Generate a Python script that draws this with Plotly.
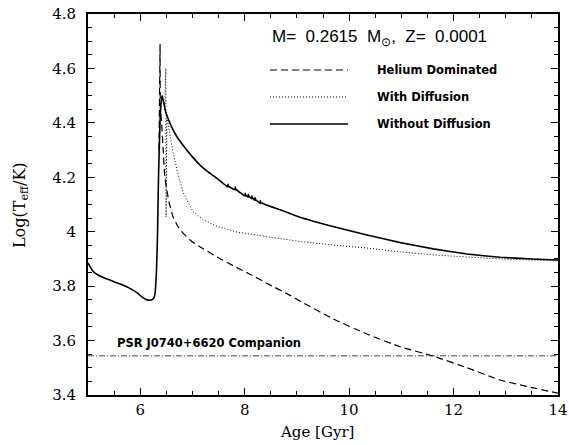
import plotly.graph_objects as go

# ---- data ----
solid_age = [5.0, 5.05, 5.1, 5.2, 5.38, 5.63, 5.82, 5.95, 6.02, 6.1, 6.19, 6.25, 6.28,
             6.31, 6.33, 6.35, 6.38, 6.40, 6.42, 6.45, 6.48, 6.53, 6.6, 6.7, 6.82, 7.0,
             7.15, 7.3, 7.47,
             7.68, 7.68, 7.69, 7.82, 7.82, 7.83, 8.01, 8.01, 8.02, 8.07, 8.07, 8.08,
             8.14, 8.14, 8.15, 8.2, 8.2, 8.21, 8.3, 8.3, 8.31,
             8.74, 9.06, 9.69, 10.34, 10.98, 11.61, 12.26, 12.89, 13.5, 14.0]
solid_teff = [3.885, 3.868, 3.854, 3.84, 3.825, 3.807, 3.79, 3.774, 3.762, 3.752, 3.748, 3.754, 3.768,
              3.85, 3.98, 4.2, 4.41, 4.475, 4.50, 4.475, 4.445, 4.418, 4.385, 4.35, 4.318, 4.275,
              4.244, 4.22, 4.196,
              4.164, 4.174, 4.167, 4.154, 4.164, 4.156, 4.131, 4.141, 4.134, 4.127, 4.137, 4.130,
              4.121, 4.131, 4.124, 4.115, 4.125, 4.118, 4.104, 4.114, 4.107,
              4.076, 4.053, 4.019, 3.988, 3.96, 3.937, 3.918, 3.906, 3.90, 3.896]

dotted_age = [6.40, 6.44, 6.47, 6.49, 6.495, 6.51, 6.54, 6.57, 6.63, 6.70, 6.82, 7.01, 7.20,
              7.47, 7.85, 8.42, 9.06, 9.69, 10.34, 10.98, 11.61, 12.26, 12.89, 13.5, 14.0]
dotted_teff = [4.475, 4.48, 4.46, 4.60, 4.054, 4.42, 4.39, 4.355, 4.29, 4.23, 4.145, 4.074, 4.045,
               4.02, 3.999, 3.982, 3.964, 3.951, 3.94, 3.926, 3.915, 3.907, 3.90, 3.896, 3.893]

dashed_age = [6.36, 6.38, 6.385, 6.41, 6.44, 6.47, 6.55, 6.63, 6.72, 6.82, 7.0, 7.15, 7.47,
              7.78, 8.10, 8.43, 8.87, 9.06, 9.69, 10.34, 10.98, 11.61, 12.26, 12.89, 13.53, 14.0]
dashed_teff = [4.30, 4.69, 4.46, 4.40, 4.30, 4.20, 4.11, 4.054, 4.02, 3.995, 3.962, 3.944, 3.907,
               3.875, 3.844, 3.81, 3.766, 3.745, 3.68, 3.624, 3.577, 3.543, 3.50, 3.455, 3.426, 3.407]

psr_age = [5.0, 14.0]
psr_teff = [3.544, 3.544]

x_ticks = [6, 8, 10, 12, 14]
y_ticks = [3.4, 3.6, 3.8, 4.0, 4.2, 4.4, 4.6, 4.8]
y_ticktext = ["3.4", "3.6", "3.8", "4", "4.2", "4.4", "4.6", "4.8"]

legend_labels = ["Helium Dominated", "With Diffusion", "Without Diffusion"]
legend_dashes = ["7px,4px", "1px,2px", "solid"]
legend_widths = [1.2, 1.0, 1.6]
title_text = "M=  0.2615  M<sub>⊙</sub>,  Z=  0.0001"
psr_label = "PSR J0740+6620 Companion"
x_title = "Age [Gyr]"
y_title = "Log(T<sub>eff</sub>/K)"

fig = go.Figure()
fig.add_trace(go.Scatter(x=psr_age, y=psr_teff, mode="lines",
                         line=dict(color="#444444", width=1, dash="6px,2px,1px,2px"),
                         showlegend=False, hoverinfo="skip"))
fig.add_trace(go.Scatter(x=dashed_age, y=dashed_teff, mode="lines",
                         line=dict(color="black", width=1.2, dash="7px,4px", shape="spline", smoothing=0.3),
                         showlegend=False))
fig.add_trace(go.Scatter(x=dotted_age, y=dotted_teff, mode="lines",
                         line=dict(color="black", width=1.0, dash="1px,2px"),
                         showlegend=False))
fig.add_trace(go.Scatter(x=solid_age, y=solid_teff, mode="lines",
                         line=dict(color="black", width=1.6, shape="spline", smoothing=0.3),
                         showlegend=False))

serif = "DejaVu Serif"
sans = "Liberation Sans"
sans_bold = "DejaVu Sans"

# plot area in pixels: x 88..558, y 14..395
L, R, T, B = 88, 558, 14, 395
def px(xp):
    return (xp - L) / (R - L)
def py(yp):
    return (B - yp) / (B - T)

# manual legend
rows_y = [70, 97, 124]
for lab, d, w, yy in zip(legend_labels, legend_dashes, legend_widths, rows_y):
    fig.add_shape(type="line", xref="paper", yref="paper", x0=px(270), x1=px(348), y0=py(yy), y1=py(yy),
                  line=dict(color="black", width=w, dash=d))
    fig.add_annotation(xref="paper", yref="paper", x=px(375), y=py(yy), text="<b>%s</b>" % lab,
                       showarrow=False, xanchor="left", yanchor="middle",
                       font=dict(family=sans_bold, size=11.5, color="black"))
fig.add_annotation(xref="paper", yref="paper", x=px(270), y=py(38), text=title_text,
                   showarrow=False, xanchor="left", yanchor="middle",
                   font=dict(family=sans, size=17, color="black"))
fig.add_annotation(xref="paper", yref="paper", x=px(115), y=py(343), text="<b>%s</b>" % psr_label,
                   showarrow=False, xanchor="left", yanchor="middle",
                   font=dict(family=sans_bold, size=11.5, color="black"))
# axis titles
fig.add_annotation(xref="paper", yref="paper", x=px(317), y=py(432), text=x_title,
                   showarrow=False, xanchor="center", yanchor="middle",
                   font=dict(family=serif, size=15, color="black"))
fig.add_annotation(xref="paper", yref="paper", x=px(21), y=py(205), text=y_title, textangle=-90,
                   showarrow=False, xanchor="center", yanchor="middle",
                   font=dict(family=serif, size=16, color="black"))

axis_common = dict(showline=True, linecolor="black", linewidth=2, mirror="ticks",
                   ticks="inside", ticklen=7, tickwidth=1.2, tickcolor="black",
                   showgrid=False, zeroline=False, automargin=False,
                   tickfont=dict(family=serif, size=15, color="black"))

fig.update_xaxes(range=[5, 14], tickvals=x_ticks,
                 minor=dict(dtick=0.5, tick0=5, ticks="inside", ticklen=4, tickcolor="black", tickwidth=1),
                 **axis_common)
fig.update_yaxes(range=[3.4, 4.8], tickvals=y_ticks, ticktext=y_ticktext,
                 minor=dict(dtick=0.05, tick0=3.4, ticks="inside", ticklen=4, tickcolor="black", tickwidth=1),
                 ticklabelstandoff=7,
                 **axis_common)

fig.update_layout(width=569, height=445, plot_bgcolor="white", paper_bgcolor="white",
                  margin=dict(l=L, r=569 - R, t=T, b=445 - B), showlegend=False)

fig.write_html("out.html", config={"displayModeBar": False},
               post_script="document.body.style.margin='0';document.body.style.overflow='hidden';")
